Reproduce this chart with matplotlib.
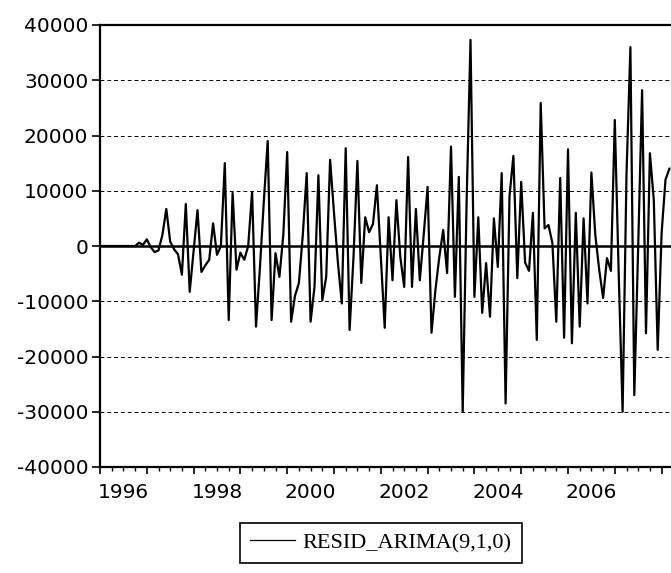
import numpy as np
import matplotlib.pyplot as plt

# Resíduos mensais do ARIMA(9,1,0) (1996M1 em diante)
resid_1996 = [0, 0, 0, 0, 0, 0, 0, 0, 0, 0, 600, 200]
resid_1997 = [1200, -200, -1100, -800, 2000, 6700, 800, -600, -1500, -5200, 7600, -8300]
resid_1998 = [-1000, 6500, -4700, -3500, -2500, 4100, -1600, 0, 15000, -13400, 9600, -4300]
resid_1999 = [-1200, -2500, 0, 9800, -14600, -4000, 8000, 19000, -13400, -1300, -5600, 2000]
resid_2000 = [17000, -13700, -9000, -6700, 2000, 13200, -13700, -7400, 12800, -9800, -5600, 15600]
resid_2001 = [6000, -3000, -10400, 17700, -15200, -2000, 15400, -6700, 5200, 2500, 4000, 11000]
resid_2002 = [-2000, -14800, 5200, -6200, 8300, -2000, -7400, 16100, -7400, 6700, -6200, 2000]
resid_2003 = [10700, -15700, -8000, -2000, 2900, -4900, 18000, -9200, 12500, -30000, 8000, 37300]
resid_2004 = [-9200, 5200, -12100, -3100, -12800, 5000, -3800, 13200, -28500, 9000, 16300, -5800]
resid_2005 = [11600, -3000, -4500, 6000, -17000, 25900, 3200, 3800, 500, -13700, 12300, -16600]
resid_2006 = [17500, -17600, 6000, -14600, 5000, -10400, 13300, 2000, -4300, -9400, -2200, -4500]
resid_2007 = [22800, -5000, -30000, 13000, 36000, -27000, 0, 28200, -15800, 16800, 8300, -18800]
resid_2008 = [2300, 12000, 14000]

ano_inicial = 1996
anos_rotulo = [1996, 1998, 2000, 2002, 2004, 2006]
y_ticks = [-40000, -30000, -20000, -10000, 0, 10000, 20000, 30000, 40000]
nome_serie = "RESID_ARIMA(9,1,0)"

residuos = (resid_1996 + resid_1997 + resid_1998 + resid_1999 + resid_2000 + resid_2001
            + resid_2002 + resid_2003 + resid_2004 + resid_2005 + resid_2006 + resid_2007
            + resid_2008)
tempo = ano_inicial + np.arange(len(residuos)) / 12.0

plt.rcParams['axes.unicode_minus'] = False
plt.rcParams['font.family'] = 'DejaVu Sans'

fig = plt.figure(figsize=(6.71, 5.73), dpi=100)
# eixo passa da borda direita (o original está cortado)
ax = fig.add_axes([100 / 671, 106 / 573, 580 / 671, 442 / 573])

linha, = ax.plot(tempo, residuos, color='black', lw=1.6, label=nome_serie)

# grade tracejada e linha do zero
for nivel in y_ticks:
    if nivel not in (0, -40000, 40000):
        ax.axhline(nivel, color='black', lw=0.7, ls=(0, (4, 3)), zorder=0)
ax.axhline(0, color='black', lw=1.8, zorder=1)

ax.set_ylim(-40000, 40000)
ax.set_xlim(ano_inicial, ano_inicial + 580 / 46.8)
ax.set_yticks(y_ticks)
ax.set_yticklabels([str(v) for v in y_ticks])
ax.tick_params(axis='y', direction='out', length=6, width=1.2, pad=2.5, labelsize=14.5)

# marcas anuais e trimestrais, rótulos no meio do ano
anos = np.arange(ano_inicial, 2009)
ax.set_xticks(anos)
ax.set_xticklabels([])
ax.set_xticks(np.arange(ano_inicial, 2008.5, 0.25), minor=True)
ax.tick_params(axis='x', which='major', direction='out', length=5, width=1.2)
ax.tick_params(axis='x', which='minor', direction='out', length=3, width=1.0)

sec = ax.secondary_xaxis('bottom')
sec.set_xticks([a + 0.5 for a in anos_rotulo])
sec.set_xticklabels([str(a) for a in anos_rotulo])
sec.tick_params(length=0, pad=11.5, labelsize=14.5)
sec.spines['bottom'].set_visible(False)

for lado in ['left', 'top', 'bottom']:
    ax.spines[lado].set_linewidth(1.6)
ax.spines['right'].set_visible(False)

leg = fig.legend(handles=[linha], loc='center', bbox_to_anchor=(381 / 671, 1 - 543 / 573),
                 frameon=True, fancybox=False, edgecolor='black', framealpha=1,
                 handlelength=2.0, handletextpad=0.35, borderpad=0.45,
                 prop={'family': 'Liberation Serif', 'size': 16})
leg.get_frame().set_linewidth(1.2)
leg.get_lines()[0].set_linewidth(0.9)

fig.savefig('out.png', dpi=100)
